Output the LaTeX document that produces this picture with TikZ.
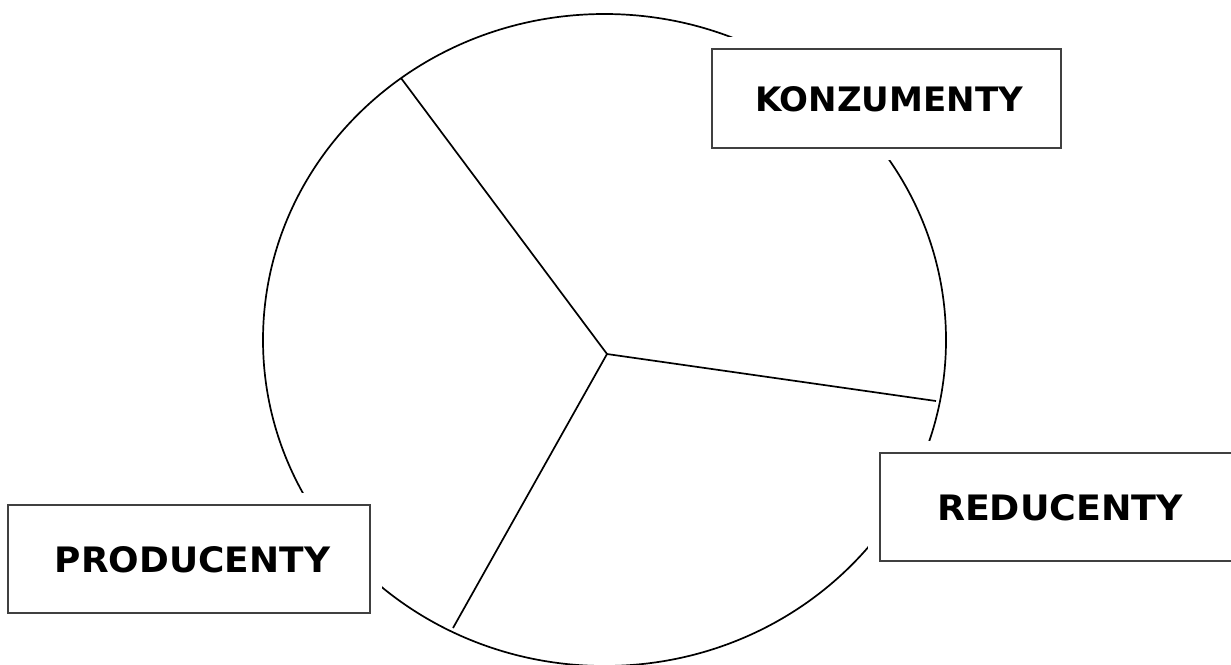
\documentclass[tikz,border=0pt]{standalone}
\usepackage{fontspec}
\setmainfont{DejaVu Sans}
\usepackage{graphicx}
\usetikzlibrary{shapes.geometric}
\tikzset{
  ring/.style={line width=1.7pt, black},
  spoke/.style={line width=1.7pt, black},
  labelbox/.style={draw=black!75, line width=2pt, fill=white, inner sep=0pt,
    preaction={draw=white, line width=24pt}},
  lbl/.style={inner sep=0pt, font=\bfseries}
}
\begin{document}
\begin{tikzpicture}[x=1pt,y=-1pt]
\useasboundingbox[fill=white] (0,0) rectangle (1231,664);
% ring and spokes
\node[ring, draw, ellipse, minimum width=683pt, minimum height=652pt, inner sep=0pt] (ring) at (604.5,340) {};
\coordinate (hub) at (607,354);
\coordinate (a) at (401,78);
\coordinate (b) at (936,401);
\coordinate (c) at (453,628);
\draw[spoke] (hub) -- (a);
\draw[spoke] (hub) -- (b);
\draw[spoke] (hub) -- (c);
% boxes
\node[labelbox, minimum width=349pt, minimum height=99pt] (konz) at (886.5,98.5) {};
\node[labelbox, minimum width=362pt, minimum height=108pt] (prod) at (189,559) {};
\node[labelbox, minimum width=362pt, minimum height=108pt] (red) at (1061,507) {};
\node[lbl] (konzt) at (889,99) {\resizebox{268pt}{25pt}{KONZUMENTY}};
\node[lbl] (prodt) at (192.5,560) {\resizebox{275pt}{26pt}{PRODUCENTY}};
\node[lbl] (redt) at (1060,507.5) {\resizebox{246pt}{26pt}{REDUCENTY}};
\end{tikzpicture}
\end{document}
